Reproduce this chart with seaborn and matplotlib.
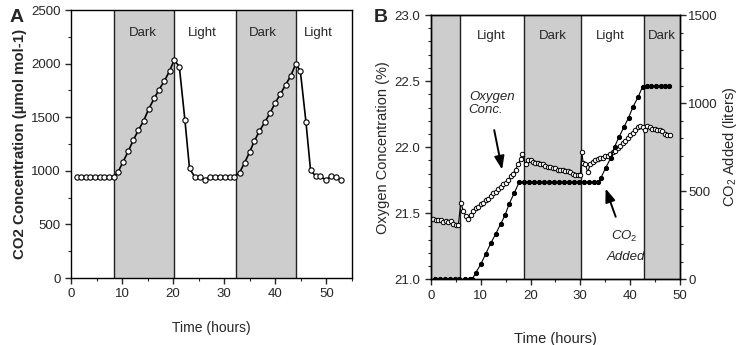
import matplotlib
matplotlib.use("Agg")
import matplotlib.pyplot as plt
from matplotlib import font_manager
from matplotlib.ticker import MultipleLocator
import seaborn as sns
import numpy as np

# ---------------- data ----------------
# Panel A: CO2 concentration
a_time = [1.1, 2.0, 2.9, 3.8, 4.7, 5.6, 6.5, 7.5, 8.4,
          9.2, 10.2, 11.2, 12.2, 13.2, 14.2, 15.2, 16.3, 17.2, 18.3, 19.3, 20.2,
          21.2, 22.3, 23.2, 24.2, 25.2, 26.2, 27.2, 28.2, 29.2, 30.2, 31.2, 32.0,
          33.0, 34.0, 35.0, 35.9, 36.9, 38.0, 39.0, 40.0, 41.0, 42.0, 43.0, 44.0,
          44.9, 46.0, 46.9, 47.9, 48.8, 49.9, 50.9, 51.9, 52.9]
a_co2 = [945, 945, 945, 945, 945, 945, 945, 945, 945,
         989, 1085, 1182, 1287, 1380, 1464, 1576, 1677, 1754, 1840, 1931, 2033,
         1973, 1474, 1023, 945, 945, 918, 945, 945, 945, 945, 945, 945,
         983, 1076, 1178, 1278, 1371, 1458, 1542, 1636, 1716, 1800, 1884, 1996,
         1934, 1458, 1007, 951, 951, 914, 951, 940, 914]
a_dark = [(8.5, 20.2), (32.3, 44.1)]
a_period_labels = ["Dark", "Light", "Dark", "Light"]
a_period_x = [14.1, 25.8, 37.5, 48.5]

# Panel B: oxygen concentration (%)
b_o2_time = [0.5, 1.0, 1.5, 2.0, 2.5, 3.0, 3.5, 4.0, 4.5, 5.0, 5.5,
             6.0, 6.5, 7.0, 7.5, 8.0, 8.5, 9.0, 9.5, 10.0, 10.5, 11.0, 11.5, 12.0,
             12.5, 13.0, 13.5, 14.0, 14.5, 15.0, 15.5, 16.0, 16.5, 17.0, 17.5, 18.0, 18.3,
             19.0, 19.5, 20.0, 20.5, 21.0, 21.5, 22.0, 22.5, 23.0, 23.5, 24.0, 24.5,
             25.0, 25.5, 26.0, 26.5, 27.0, 27.5, 28.0, 28.5, 29.0, 29.5, 30.0,
             30.3, 30.6, 31.0, 31.5, 32.0, 32.5, 33.0, 33.5, 34.0, 34.5, 35.0, 35.5,
             36.0, 36.5, 37.0, 37.5, 38.0, 38.5, 39.0, 39.5, 40.0, 40.5, 41.0, 41.5,
             42.0, 42.5, 43.0, 43.5, 44.0, 44.5, 45.0, 45.5, 46.0, 46.5, 47.0, 47.5, 48.0]
b_o2 = [21.46, 21.45, 21.45, 21.45, 21.43, 21.44, 21.43, 21.44, 21.42, 21.41, 21.41,
        21.58, 21.52, 21.48, 21.46, 21.49, 21.52, 21.54, 21.55, 21.57, 21.58, 21.60, 21.61, 21.63,
        21.65, 21.66, 21.68, 21.70, 21.72, 21.73, 21.75, 21.78, 21.80, 21.83, 21.87, 21.91, 21.95,
        21.87, 21.90, 21.90, 21.89, 21.88, 21.88, 21.87, 21.87, 21.86, 21.85, 21.85, 21.84,
        21.84, 21.83, 21.83, 21.83, 21.82, 21.82, 21.81, 21.80, 21.79, 21.79, 21.79,
        21.96, 21.88, 21.87, 21.81, 21.87, 21.89, 21.90, 21.91, 21.92, 21.92, 21.93, 21.93,
        21.95, 21.96, 21.97, 21.99, 22.01, 22.03, 22.05, 22.07, 22.09, 22.11, 22.13, 22.15,
        22.16, 22.15, 22.13, 22.16, 22.15, 22.14, 22.14, 22.13, 22.13, 22.12, 22.10, 22.09, 22.09]

# Panel B: CO2 added (liters)
b_co2_time = [0.8, 1.8, 2.8, 3.8, 4.8, 5.7, 6.8, 7.8, 8.3,
              9.0, 10.0, 11.0, 12.0, 13.0, 14.0, 14.9, 15.7, 16.7, 17.7,
              18.7, 19.7, 20.7, 21.7, 22.7, 23.7, 24.7, 25.7, 26.7, 27.7, 28.7,
              29.7, 30.7, 31.7, 32.7, 33.6,
              34.1, 35.1, 36.1, 36.9, 37.8, 38.8, 39.7, 40.6, 41.6, 42.5,
              43.4, 44.3, 45.3, 46.2, 47.1, 47.9]
b_co2 = [0, 0, 0, 0, 0, 0, 0, 0, 0,
         37, 85, 144, 204, 257, 314, 365, 427, 488, 550,
         550, 550, 550, 550, 550, 550, 550, 550, 550, 550, 550,
         550, 550, 550, 550, 550,
         573, 633, 687, 753, 809, 866, 917, 980, 1033, 1093,
         1095, 1095, 1095, 1095, 1095, 1095]
b_dark = [(0, 5.8), (18.6, 30.1), (42.7, 50)]
b_period_labels = ["Light", "Dark", "Light", "Dark"]
b_period_x = [12.2, 24.4, 36.1, 46.3]

# ---------------- style ----------------
sns.set_style("ticks")
installed = {f.name for f in font_manager.fontManager.ttflist}
narrow = "Liberation Sans Narrow" if "Liberation Sans Narrow" in installed else "Liberation Sans"
plt.rcParams["font.family"] = [narrow, "Liberation Sans", "DejaVu Sans"]
plt.rcParams["mathtext.fontset"] = "custom"
plt.rcParams["mathtext.it"] = narrow + ":italic"
plt.rcParams["mathtext.rm"] = narrow

shade = "#cdcdcd"
fig = plt.figure(figsize=(7.43, 3.45), dpi=100)

# ---------------- panel A ----------------
axA = fig.add_axes([0.0956, 0.194, 0.378, 0.777])
for x0, x1 in a_dark:
    axA.axvspan(x0, x1, color=shade, lw=0, zorder=0)
    axA.axvline(x0, color="#222222", lw=1.0, zorder=1)
    axA.axvline(x1, color="#222222", lw=1.0, zorder=1)
sns.lineplot(x=a_time, y=a_co2, ax=axA, color="black", lw=1.2, marker="o",
             markersize=3.8, markerfacecolor="white", markeredgecolor="black",
             markeredgewidth=0.8, sort=False, zorder=3)
axA.set_xlim(0, 55)
axA.set_ylim(0, 2500)
axA.xaxis.set_major_locator(MultipleLocator(10))
axA.xaxis.set_minor_locator(MultipleLocator(5))
axA.yaxis.set_major_locator(MultipleLocator(500))
axA.yaxis.set_minor_locator(MultipleLocator(250))
for lab, xv in zip(a_period_labels, a_period_x):
    axA.text(xv, 2290, lab, ha="center", va="center", fontsize=9.5)
axA.set_xlabel("Time (hours)", fontsize=10, labelpad=15)
axA.set_ylabel("CO2 Concentration (\u00b5mol mol-1)", fontsize=10.8,
               fontweight="bold", family=["Liberation Sans", "DejaVu Sans"], labelpad=3)
fig.text(0.022, 0.948, "A", fontsize=14, fontweight="bold",
         family=["Liberation Sans", "DejaVu Sans"], ha="center", va="center")

# ---------------- panel B ----------------
axB = fig.add_axes([0.580, 0.1904, 0.335, 0.766])
for x0, x1 in b_dark:
    axB.axvspan(x0, x1, color=shade, lw=0, zorder=0)
    for xv in (x0, x1):
        if 0 < xv < 50:
            axB.axvline(xv, color="#222222", lw=1.0, zorder=1)
sns.lineplot(x=b_o2_time, y=b_o2, ax=axB, color="black", lw=0.8, marker="o",
             markersize=3.2, markerfacecolor="white", markeredgecolor="black",
             markeredgewidth=0.7, sort=False, zorder=3)
axB.set_xlim(0, 50)
axB.set_ylim(21.0, 23.0)
axB.xaxis.set_major_locator(MultipleLocator(10))
axB.xaxis.set_minor_locator(MultipleLocator(5))
axB.yaxis.set_major_locator(MultipleLocator(0.5))
axB.yaxis.set_minor_locator(MultipleLocator(0.1))
axB.yaxis.set_major_formatter(matplotlib.ticker.FormatStrFormatter("%.1f"))
for lab, xv in zip(b_period_labels, b_period_x):
    axB.text(xv, 22.84, lab, ha="center", va="center", fontsize=9.5)
axB.set_xlabel("Time (hours)", fontsize=10.5, labelpad=22)
axB.set_ylabel("Oxygen Concentration (%)", fontsize=10.5, labelpad=3)

ax2 = axB.twinx()
sns.lineplot(x=b_co2_time, y=b_co2, ax=ax2, color="black", lw=0.8, marker="o",
             markersize=3.0, markerfacecolor="black", markeredgecolor="black",
             sort=False, zorder=3)
ax2.set_ylim(0, 1500)
ax2.yaxis.set_major_locator(MultipleLocator(500))
ax2.yaxis.set_minor_locator(MultipleLocator(100))
ax2.set_ylabel("CO$_2$ Added (liters)", fontsize=10.5, labelpad=2)

# annotations
axB.text(12.2, 22.38, "Oxygen", fontsize=9.5, style="italic", ha="center", va="center")
axB.text(11.0, 22.28, "Conc.", fontsize=9.5, style="italic", ha="center", va="center")
axB.annotate("", xy=(14.4, 21.81), xytext=(12.6, 22.15),
             arrowprops=dict(arrowstyle="-|>,head_length=0.8,head_width=0.3",
                             color="black", lw=1.4))
ax2.text(38.8, 245, "CO$_2$", fontsize=9.5, style="italic", ha="center", va="center")
ax2.text(39.2, 128, "Added", fontsize=9.5, style="italic", ha="center", va="center")
ax2.annotate("", xy=(34.9, 530), xytext=(37.3, 340),
             arrowprops=dict(arrowstyle="-|>,head_length=0.8,head_width=0.3",
                             color="black", lw=1.4))
fig.text(0.512, 0.948, "B", fontsize=14, fontweight="bold",
         family=["Liberation Sans", "DejaVu Sans"], ha="center", va="center")

for ax in (axA, axB, ax2):
    for s in ax.spines.values():
        s.set_linewidth(1.0)
        s.set_color("black")
    ax.tick_params(which="major", length=4, width=1.0, labelsize=9.5, direction="out")
    ax.tick_params(which="minor", length=2.5, width=0.8, direction="out")
ax2.tick_params(axis="y", which="major", pad=2)
axA.spines["right"].set_visible(True)
axA.spines["top"].set_visible(True)
axB.spines["top"].set_visible(True)
ax2.spines["top"].set_visible(True)

fig.savefig("out.png", dpi=100)
